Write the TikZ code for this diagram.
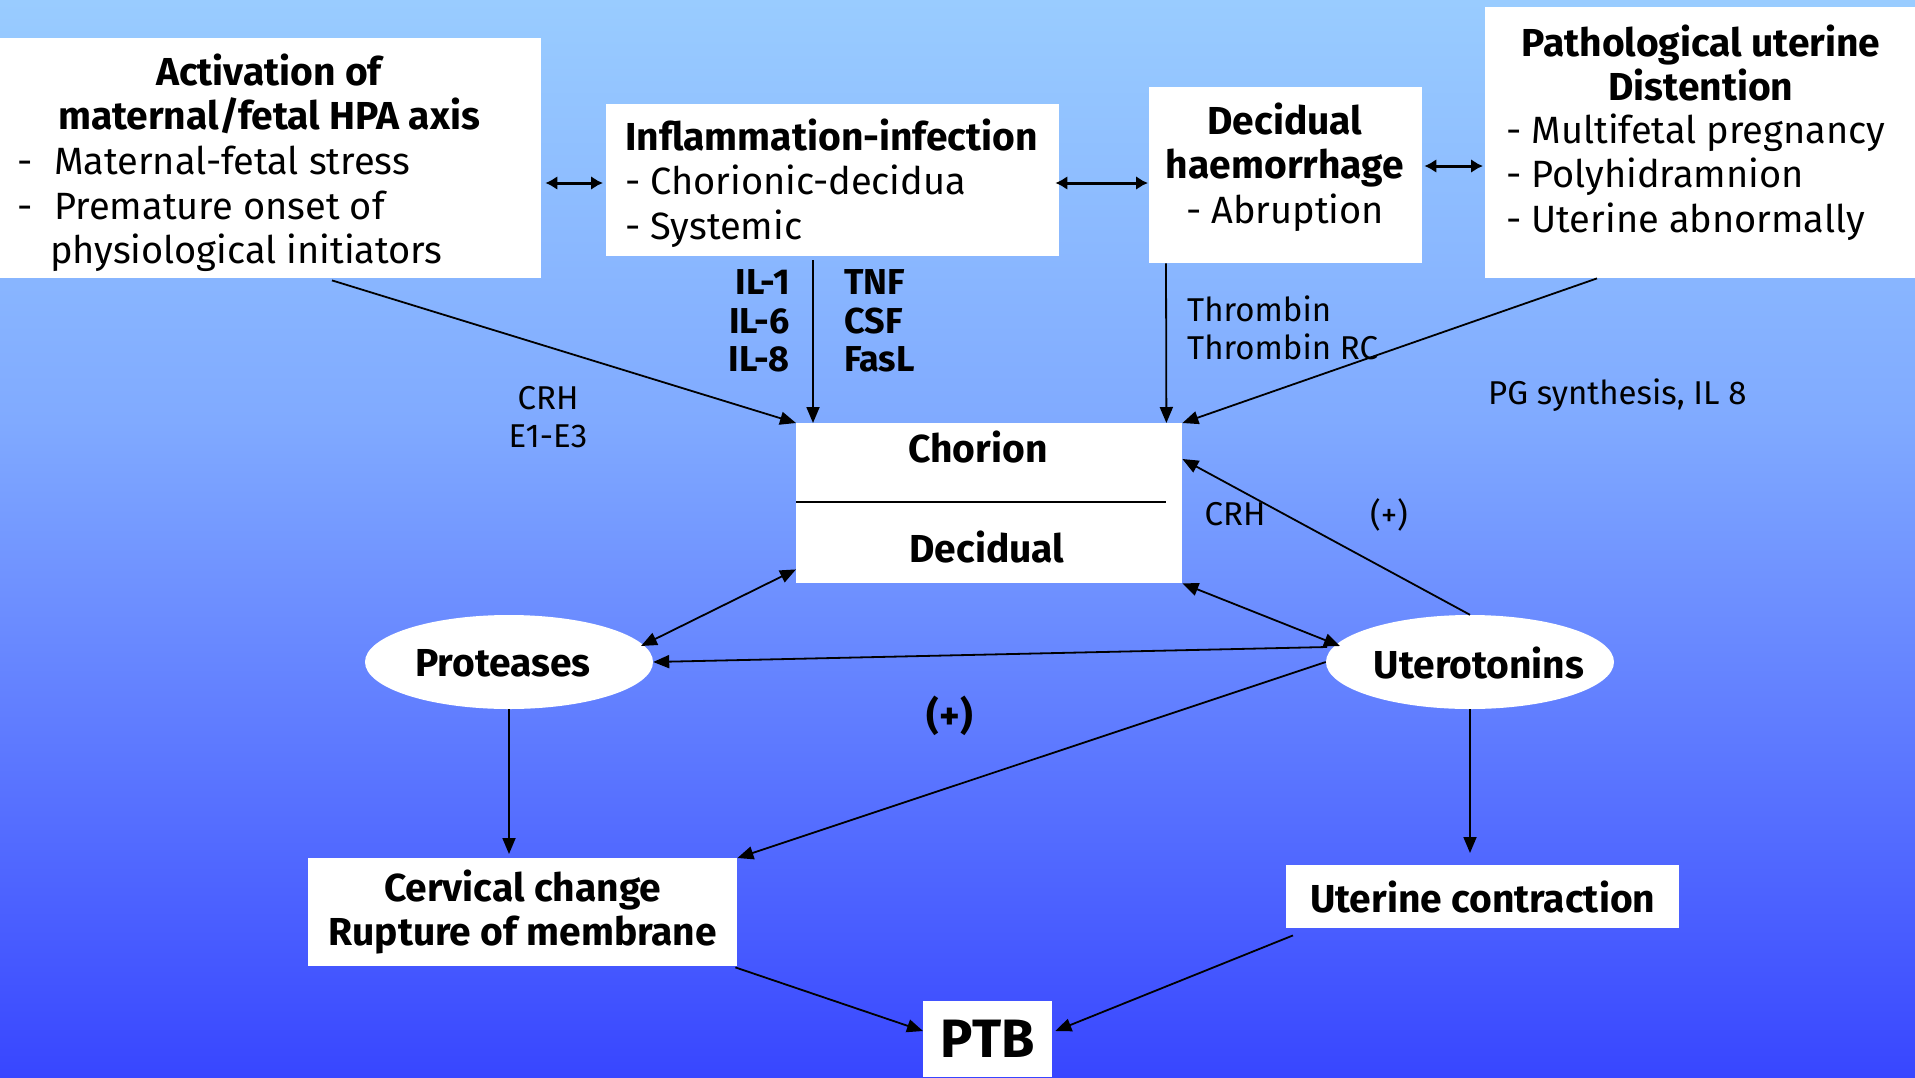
\documentclass[tikz,border=0pt]{standalone}
\usepackage{fontspec}
\setmainfont{Fira Sans}
\usetikzlibrary{arrows.meta,calc,shapes.geometric}
\pgfdeclareverticalshading{bgshade}{100bp}{rgb(0bp)=(0.22,0.275,1); rgb(25bp)=(0.22,0.275,1); rgb(36.9bp)=(0.333,0.431,1); rgb(46.2bp)=(0.42,0.549,1); rgb(55.5bp)=(0.502,0.667,1); rgb(75bp)=(0.6,0.8,1); rgb(100bp)=(0.6,0.8,1)}
\newcommand\boxfont{\fontsize{38}{44.6}\selectfont}
\newcommand\boldfont{\fontsize{39}{44.6}\selectfont\bfseries}
\newcommand\labfont{\fontsize{33}{38.5}\selectfont}
\newcommand\blabfont{\fontsize{36}{38.5}\selectfont\bfseries}
\begin{document}
\begin{tikzpicture}[x=1pt,y=-1pt,
  wbox/.style={fill=white, draw=none, inner sep=0pt, anchor=north west},
  oval/.style={ellipse, fill=white, draw=none, minimum width=288pt, minimum height=94pt, inner sep=0pt},
  txt/.style={inner sep=0pt, font=\boxfont, text=black},
  lab/.style={inner sep=0pt, font=\labfont, text=black},
  arr/.style={line width=1.8pt, -{Triangle[length=16pt,width=13pt]}},
  darr/.style={line width=1.8pt, {Triangle[length=16pt,width=13pt]}-{Triangle[length=16pt,width=13pt]}},
  tarr/.style={line width=3pt, {Latex[length=12pt,width=14pt]}-{Latex[length=12pt,width=14pt]}}
]
\useasboundingbox (0,0) rectangle (1915,1077);
\shade[shading=bgshade] (0,0) rectangle (1915,1077);

% boxes
\node[wbox, minimum width=541pt, minimum height=240pt] (act) at (0,38) {};
\node[wbox, minimum width=453pt, minimum height=152pt] (infl) at (606,104) {};
\node[wbox, minimum width=273pt, minimum height=176pt] (dec) at (1149,87) {};
\node[wbox, minimum width=430pt, minimum height=271pt] (path) at (1485,7) {};
\node[wbox, minimum width=386pt, minimum height=160pt] (chor) at (796,423) {};
\node[oval] (prot) at (509,662) {};
\node[oval] (ute) at (1470,662) {};
\node[wbox, minimum width=429pt, minimum height=108pt, align=center, font=\boldfont] (cerv) at (308,858) {Cervical change\\Rupture of membrane};
\node[wbox, minimum width=393pt, minimum height=63pt, font=\boldfont] (uc) at (1286,865) {Uterine contraction};
\node[wbox, minimum width=129pt, minimum height=76pt, font=\fontsize{54}{60}\selectfont\bfseries] (ptb) at (923,1001) {PTB};

% box texts
\node[txt, font=\boldfont] (protT) at (503,663) {Proteases};
\node[txt, font=\boldfont] (uteT) at (1479,663) {Uterotonins};
\node[txt, align=center, font=\boldfont] (actT) at (269,94) {Activation of\\maternal/fetal HPA axis};
\node[txt, align=left, anchor=west] (actB) at (17,209) {\makebox[37pt][l]{-}Maternal-fetal stress\\\makebox[37pt][l]{-}Premature onset of\\\hspace*{33pt}physiological initiators};
\node[txt, align=left, anchor=west] (inflT) at (625,183) {{\boldfont Inflammation-infection}\\- Chorionic-decidua\\- Systemic};
\node[txt, align=center] (decT) at (1285,167) {{\boldfont Decidual}\\{\boldfont haemorrhage}\\- Abruption};
\node[txt, align=center, font=\boldfont] (pathT) at (1701,63) {Pathological uterine\\Distention};
\node[txt, align=left, anchor=west] (pathB) at (1506,177) {- Multifetal pregnancy\\- Polyhidramnion\\- Uterine abnormally};
\node[txt, font=\boldfont] (chorT) at (978,447) {Chorion};
\node[txt, font=\boldfont] (decidT) at (987,547) {Decidual};
\draw[line width=2pt] ($(chor.north west)+(0,79)$) -- ($(chor.north west)+(370,79)$);

% labels
\node[lab, font=\blabfont, align=right, anchor=east] (il) at (790,321) {IL-1\\IL-6\\IL-8};
\node[lab, font=\blabfont, align=left, anchor=west] (tnf) at (844,321) {TNF\\CSF\\FasL};
\node[lab, align=center] (crhA) at (548,417) {CRH\\E1-E3};
\node[lab, align=left, anchor=west] (thr) at (1187,328) {Thrombin\\Thrombin RC};
\node[lab, anchor=west] (pg) at (1488,395) {PG synthesis, IL 8};
\node[lab] (crhB) at (1235,514) {CRH};
\node[lab] (plusA) at (1389,515) {(+)};
\node[txt, font=\boldfont] (plusB) at (950,716) {(+)};

% top double arrows
\draw[tarr] ($(act.north east)+(4,145)$) -- ($(infl.north west)+(-3,79)$);
\draw[tarr] ($(infl.north east)+(-4,79)$) -- ($(dec.north west)+(-1,96)$);
\draw[tarr] ($(dec.north east)+(2,79)$) -- ($(path.north west)+(-2,159)$);

% into chorion
\draw[arr] ($(act.south west)+(332,2)$) -- (chor.north west);
\draw[arr] ($(infl.south west)+(207,4)$) -- ($(chor.north west)+(17,0)$);
\draw[arr] ($(dec.south west)+(17,0)$) -- ($(chor.north east)+(-16,0)$);
\draw[arr] ($(path.south west)+(112,0)$) -- (chor.north east);
\draw[arr] (ute.north) -- ($(chor.north east)+(0,36)$);

% middle
\draw[darr] ($(chor.south west)+(0,-14)$) -- ($(prot.center)+(132,-16)$);
\draw[darr] (chor.south east) -- ($(ute.center)+(-130,-16)$);
\draw[arr] ($(ute.center)+(-143,-15)$) -- (prot.east);
\draw[arr] (ute.west) -- (cerv.north east);
\draw[arr] (prot.south) -- ($(cerv.north west)+(201,-4)$);
\draw[arr] (ute.south) -- ($(uc.north west)+(184,-12)$);

% to PTB
\draw[arr] ($(cerv.south east)+(-2,1)$) -- ($(ptb.north west)+(0,30)$);
\draw[arr] ($(uc.south west)+(7,7)$) -- ($(ptb.north east)+(3,30)$);
\end{tikzpicture}
\end{document}
